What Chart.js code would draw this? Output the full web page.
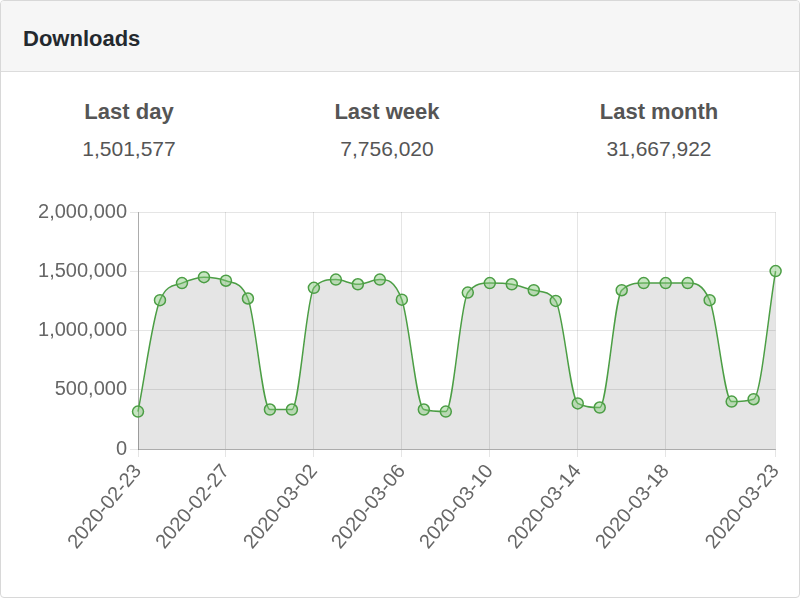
<!DOCTYPE html>
<html><head><meta charset="utf-8">
<script src="https://cdn.jsdelivr.net/npm/chart.js@4"></script>
<style>
body{margin:0;background:#fff;font-family:"Liberation Sans",Arial,sans-serif;}
#card{position:absolute;left:0;top:0;width:798px;height:596px;border:1px solid #d8d8d8;border-radius:4px;overflow:hidden;}
#hdr{height:70px;background:#f6f6f6;border-bottom:1px solid #dcdcdc;font-weight:bold;font-size:22px;color:#24292e;line-height:76px;padding-left:22px;}
.st{position:absolute;top:98px;width:260px;text-align:center;color:#555;}
.st b{display:block;font-size:22px;color:#555;}
.st span{display:block;font-size:21px;margin-top:12px;}
#wrap{position:absolute;left:4px;top:196px;width:792px;height:380px;}
</style></head><body>
<div id="card"><div id="hdr">Downloads</div>
<div class="st" style="left:-2px"><b>Last day</b><span>1,501,577</span></div>
<div class="st" style="left:256px"><b>Last week</b><span>7,756,020</span></div>
<div class="st" style="left:528px"><b>Last month</b><span>31,667,922</span></div>
<div id="wrap"><canvas id="c"></canvas></div></div>
<script>
const labels=["2020-02-23","2020-02-24","2020-02-25","2020-02-26","2020-02-27","2020-02-28","2020-02-29","2020-03-01","2020-03-02","2020-03-03","2020-03-04","2020-03-05","2020-03-06","2020-03-07","2020-03-08","2020-03-09","2020-03-10","2020-03-11","2020-03-12","2020-03-13","2020-03-14","2020-03-15","2020-03-16","2020-03-17","2020-03-18","2020-03-19","2020-03-20","2020-03-21","2020-03-22","2020-03-23"];
const downloads=[316000,1256000,1400000,1450000,1420000,1270000,333000,333000,1360000,1430000,1390000,1430000,1260000,333000,316000,1320000,1400000,1390000,1340000,1250000,385000,350000,1340000,1400000,1400000,1400000,1256000,400000,420000,1501577];
Chart.defaults.font.family='"Liberation Sans",Arial,sans-serif';
new Chart(document.getElementById('c'),{type:'line',
data:{labels:labels,datasets:[{data:downloads,borderColor:'#4c9e45',borderWidth:1.5,backgroundColor:'rgba(0,0,0,0.1)',fill:true,tension:0.4,cubicInterpolationMode:'monotone',
pointRadius:5.5,pointBackgroundColor:'rgba(130,200,120,0.45)',pointBorderColor:'#4c9e45',pointBorderWidth:1.5}]},
options:{responsive:true,maintainAspectRatio:false,animation:false,
plugins:{legend:{display:false},tooltip:{enabled:false}},
layout:{padding:{right:14,top:4}},
scales:{y:{min:0,max:2000000,afterFit:s=>{s.width=133;},ticks:{stepSize:500000,color:'#666',font:{size:20},callback:v=>v.toLocaleString('en-US')},grid:{color:'rgba(0,0,0,0.1)'},border:{color:'rgba(0,0,0,0.25)'}},
x:{afterFit:s=>{s.height=128;},ticks:{autoSkip:false,maxRotation:50,minRotation:50,color:'#666',font:{size:20},callback:function(v,i){return ((i%4===0&&i!==28)||i===29)?labels[i]:null;}},grid:{color:'rgba(0,0,0,0.1)'},border:{color:'rgba(0,0,0,0.25)'}}}}});
</script></body></html>
